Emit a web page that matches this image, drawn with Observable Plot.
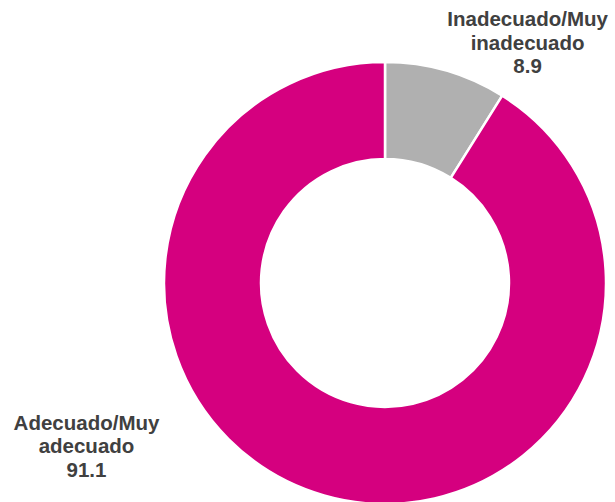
<!DOCTYPE html>
<html>
<head>
<meta charset="utf-8">
<script src="https://cdn.jsdelivr.net/npm/d3@7"></script>
<script src="https://cdn.jsdelivr.net/npm/@observablehq/plot@0.6"></script>
<style>
  html, body { margin: 0; padding: 0; background: #fff; overflow: hidden; }
  #chart { width: 615px; height: 502px; }
</style>
</head>
<body>
<div id="chart"></div>
<script>
// Data
const categories = ["Inadecuado/Muy inadecuado", "Adecuado/Muy adecuado"];
const labelText = ["Inadecuado/Muy\ninadecuado", "Adecuado/Muy\nadecuado"];
const values = [8.9, 91.1];
const colors = ["#b0b0b0", "#d5007f"];

// Layout (unit coordinates relative to donut radius)
const labelX = [0.643, -1.353];
const labelY = [1.092, -0.735];
const innerFrac = 0.561;

const table = categories.map((c, i) => ({
  category: c,
  value: values[i],
  label: `${labelText[i]}\n${values[i].toFixed(1)}`,
  lx: labelX[i],
  ly: labelY[i]
}));

function donut(index, scales) {
  const cx = scales.x(0), cy = scales.y(0);
  const r = scales.x(1) - cx;
  const arcs = d3.pie().sort(null).value(d => d.value)(table);
  const arc = d3.arc().innerRadius(r * innerFrac).outerRadius(r);
  const g = d3.create("svg:g").attr("transform", `translate(${cx},${cy})`);
  g.selectAll("path")
    .data(arcs)
    .join("path")
    .attr("d", arc)
    .attr("fill", (d, i) => colors[i])
    .attr("stroke", "#fff")
    .attr("stroke-width", 2.5);
  return g.node();
}

const chart = Plot.plot({
  width: 615,
  height: 502,
  margin: 0,
  x: { domain: [-1, 1], range: [164, 606], axis: null },
  y: { domain: [-1, 1], range: [504, 62], axis: null },
  style: { fontFamily: "'Liberation Sans', Arial, sans-serif", background: "#fff" },
  marks: [
    donut,
    Plot.text(table, {
      x: "lx",
      y: "ly",
      text: "label",
      fontSize: 20.5,
      fontWeight: "bold",
      fill: "#404040",
      lineHeight: 1.15,
      textAnchor: "middle",
      lineAnchor: "middle"
    })
  ]
});
document.getElementById("chart").appendChild(chart);
</script>
</body>
</html>
